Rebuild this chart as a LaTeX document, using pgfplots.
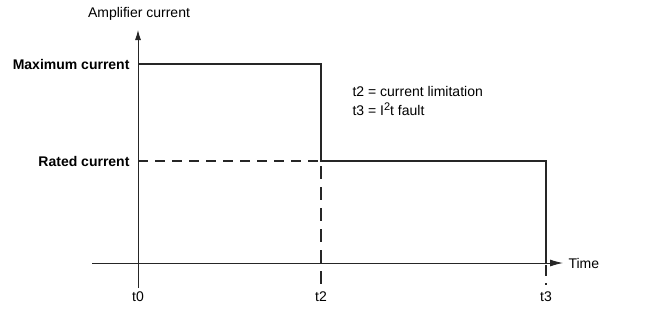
\documentclass[border=0pt]{standalone}
\usepackage{pgfplots}
\pgfplotsset{compat=1.18}
\usepackage{fontspec}
\setmainfont{Liberation Sans}
\usetikzlibrary{arrows.meta}
\begin{document}
\begin{tikzpicture}
\begin{axis}[
  scale only axis, width=653pt, height=309pt,
  xmin=0, xmax=653, ymin=0, ymax=309, y dir=reverse,
  hide axis, clip=false,
  every axis plot/.append style={line width=1pt, color=black!85},
]
% invisible frame to fix the bounding box
\addplot[draw=none, forget plot] coordinates {(0,0) (653,309)};
% y axis
\addplot[line width=0.9pt, -{Latex[length=10pt,width=6pt]}] coordinates {(138,288) (138,30)};
% x axis
\addplot[line width=0.9pt, -{Latex[length=13pt,width=7pt]}] coordinates {(92,263) (563,263)};
% current profile
\addplot[line width=1.2pt] coordinates {(138,64) (321,64) (321,161) (546,161) (546,263)};
% rated current dashed
\addplot[line width=1.1pt, dash pattern=on 10pt off 7pt] coordinates {(138,161) (321,161)};
% t2 dashed
\addplot[line width=1.1pt, dash pattern=on 13pt off 8pt] coordinates {(321,166) (321,287)};
% t3 dashed below axis
\addplot[line width=1.1pt, dash pattern=on 11pt off 7pt on 2pt off 20pt] coordinates {(546,265) (546,292)};
% labels
\node[font=\fontsize{14}{16}\selectfont] at (axis cs:139,14) {Amplifier current};
\node[font=\fontsize{14}{16}\selectfont\bfseries, anchor=east] at (axis cs:133,64) {Maximum current};
\node[font=\fontsize{14}{16}\selectfont\bfseries, anchor=east] at (axis cs:133,161) {Rated current};
\node[font=\fontsize{14}{16}\selectfont, anchor=west] at (axis cs:565,263) {Time};
\node[font=\fontsize{14}{16}\selectfont] at (axis cs:138,297) {t0};
\node[font=\fontsize{14}{16}\selectfont] at (axis cs:321,297) {t2};
\node[font=\fontsize{14}{16}\selectfont] at (axis cs:546,297) {t3};
\node[font=\fontsize{14}{16}\selectfont, anchor=west] at (axis cs:349,91) {t2 = current limitation};
\node[font=\fontsize{14}{16}\selectfont, anchor=west] at (axis cs:349,109) {t3 = I\raisebox{5pt}{\fontsize{11}{11}\selectfont 2}t fault};
\end{axis}
\end{tikzpicture}
\end{document}
